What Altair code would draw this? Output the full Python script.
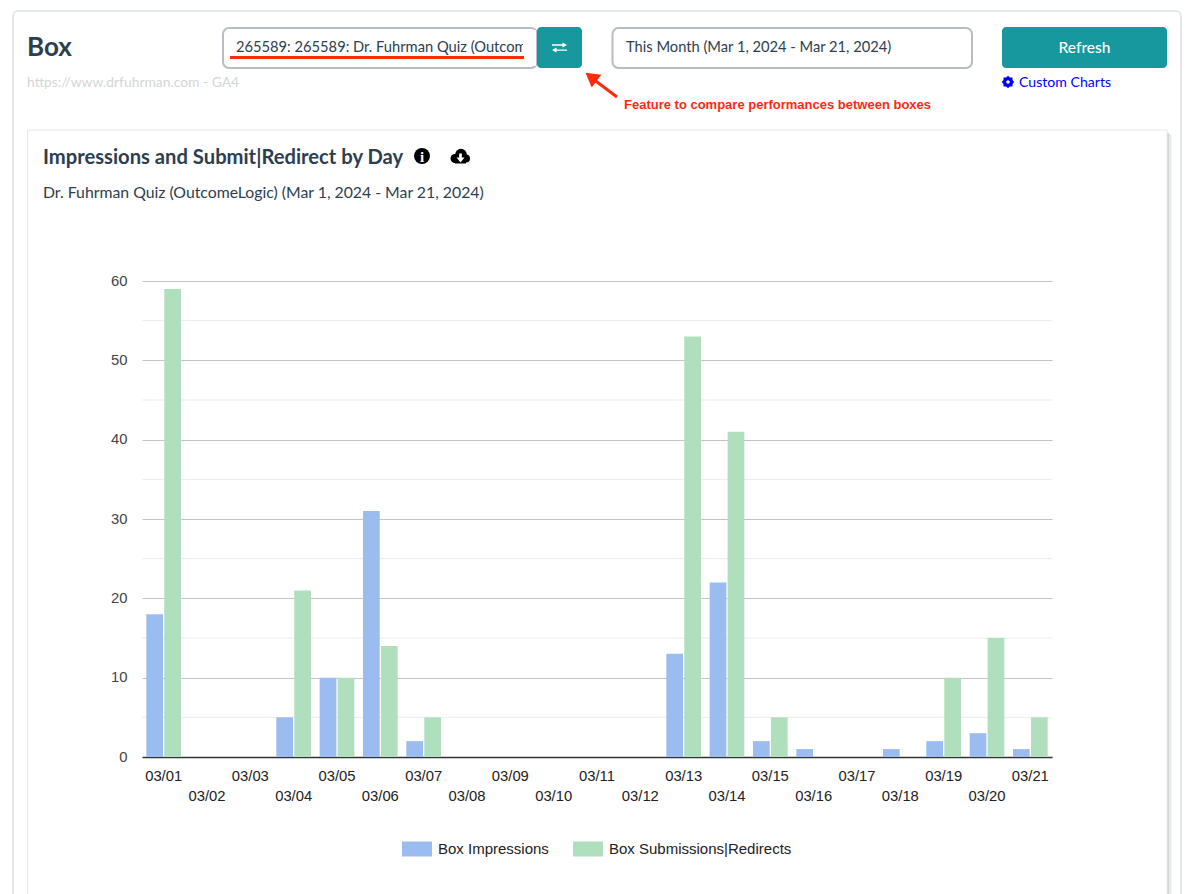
import altair as alt
import pandas as pd

days = ["03/%02d" % d for d in range(1, 22)]
impressions = [18, 0, 0, 5, 10, 31, 2, 0, 0, 0, 0, 0, 13, 22, 2, 1, 0, 1, 2, 3, 1]
submissions = [59, 0, 0, 21, 10, 14, 5, 0, 0, 0, 0, 0, 53, 41, 5, 0, 0, 0, 10, 15, 5]
series_names = ["Box Impressions", "Box Submissions|Redirects"]
series_colors = ["#9abcf0", "#afdfbd"]
major_ticks = [0, 10, 20, 30, 40, 50, 60]
minor_ticks = [5, 15, 25, 35, 45, 55]

OX, OY = 142, 281
PW, PH = 910, 476
UI = "Lato"
INK = "#2c3e50"
TEAL = "#17989f"
RED = "#ff2a0c"
one = alt.Data(values=[{"a": 1}])


def X(v):
    return alt.value(v - OX)


def Y(v):
    return alt.value(v - OY)


def box(x0, y0, x1, y1, **kw):
    return alt.Chart(one).mark_rect(**kw).encode(x=X(x0), x2=X(x1), y=Y(y0), y2=Y(y1))


def label(x, y, text, size=14, color=INK, weight="normal", font=UI, align="left"):
    return alt.Chart(one).mark_text(
        text=text, fontSize=size, color=color, fontWeight=weight, font=font,
        align=align, baseline="middle",
    ).encode(x=X(x), y=Y(y))


def dot(cx, cy, r, color):
    return alt.Chart(one).mark_circle(size=3.14159 * r * r, color=color, opacity=1).encode(x=X(cx), y=Y(cy))


def glyph(cx, cy, shape, width, color, angle=0):
    return alt.Chart(one).mark_point(
        shape=shape, size=width * width, fill=color, filled=True, opacity=1, strokeWidth=0, angle=angle
    ).encode(x=X(cx), y=Y(cy))


def line(x0, y0, x1, y1, color, w):
    return alt.Chart(one).mark_rule(color=color, strokeWidth=w).encode(x=X(x0), x2=X(x1), y=Y(y0), y2=Y(y1))


SWAP = ("M-1,-0.42H0.4V-0.68L1,-0.33L0.4,0V-0.25H-1Z"
        "M1,0.25H-0.4V0L-1,0.33L-0.4,0.68V0.42H1Z")
DOWN = "M-0.3,-1H0.3V-0.1H0.9L0,1L-0.9,-0.1H-0.3Z"

chrome = [
    # outer and inner cards
    box(13, 11, 1181, 960, fillOpacity=0, stroke="#e3e8e8", strokeWidth=2, cornerRadius=5),
    box(1167, 133, 1169, 960, fill="#d4d6d6"),
    box(1169, 134, 1171, 960, fill="#e8e9e9"),
    box(1171, 135, 1172, 960, fill="#f5f5f5"),
    box(27.5, 130, 1167, 960, fillOpacity=0, stroke="#e6e8e8", strokeWidth=1),
    # header
    label(27, 48, "Box", size=26, weight="bold"),
    label(27, 83, "https://www.drfuhrman.com - GA4", size=13.85, color="#d3d6d6"),
    box(223, 28, 537, 68, fillOpacity=0, stroke="#b7bdc2", strokeWidth=2, cornerRadius=6),
    label(236, 48, "265589: 265589: Dr. Fuhrman Quiz (Outcome", size=14.7),
    box(523, 30, 536, 66, fill="#ffffff"),
    box(537, 27, 582, 68, fill=TEAL, cornerRadius=4),
    glyph(559.5, 47.5, SWAP, 15, "#ffffff"),
    line(230, 57.5, 524, 57.5, RED, 3),
    box(612.5, 28, 972, 68, fillOpacity=0, stroke="#b7bdc2", strokeWidth=2, cornerRadius=6),
    label(626, 48, "This Month (Mar 1, 2024 - Mar 21, 2024)", size=14.7),
    box(1002, 27, 1167, 68, fill=TEAL, cornerRadius=4),
    label(1084.5, 47.5, "Refresh", size=15.5, color="#ffffff", weight=500, align="center"),
    glyph(1008, 82, "square", 9, "#0000ff"),
    glyph(1008, 82, "square", 9, "#0000ff", angle=45),
    dot(1008, 82, 4.8, "#0000ff"),
    dot(1008, 82, 2, "#ffffff"),
    label(1019, 83, "Custom Charts", size=14.1, color="#0000ff"),
    # annotation
    line(617, 97, 593, 79, RED, 3),
    glyph(591, 77, "triangle-up", 16, RED, angle=307),
    label(624, 105, "Feature to compare performances between boxes", size=13, color=RED,
          weight="bold", font="Liberation Sans"),
    # chart header
    label(43, 158, "Impressions and Submit|Redirect by Day", size=20.2, weight="bold"),
    dot(422, 156, 9, "#000000"),
    label(422, 156.5, "i", size=15, color="#ffffff", weight="bold", font="Liberation Serif", align="center"),
    dot(455, 158.5, 5, "#000000"),
    dot(461, 154.5, 6.5, "#000000"),
    dot(466, 158.5, 4.5, "#000000"),
    box(455, 157, 466, 163.5, fill="#000000"),
    glyph(460.5, 158, DOWN, 9, "#ffffff"),
    label(43, 193, "Dr. Fuhrman Quiz (OutcomeLogic) (Mar 1, 2024 - Mar 21, 2024)", size=15.8),
]

y_axis = alt.Axis(values=major_ticks, grid=True, gridColor="#c4c4c4", domain=False, ticks=False,
                  labelFont="Liberation Sans", labelFontSize=14.8, labelColor="#444444",
                  labelPadding=15)
y_scale = alt.Scale(domain=[0, 60], nice=False)

minor = alt.Chart(pd.DataFrame({"v": minor_ticks})).mark_rule(color="#ebebeb", strokeWidth=1).encode(
    x=alt.value(0), x2=alt.value(PW),
    y=alt.Y("v:Q", title=None, scale=y_scale, axis=y_axis),
)

df = pd.concat([
    pd.DataFrame({"day": days, "series": series_names[0], "value": impressions}),
    pd.DataFrame({"day": days, "series": series_names[1], "value": submissions}),
])

bars = alt.Chart(df).mark_bar().encode(
    x=alt.X("day:N", sort=days, title=None,
            scale=alt.Scale(paddingInner=0.2, paddingOuter=0.1),
            axis=alt.Axis(
                labelAngle=0, labelOverlap=False, ticks=False, domainColor="#333333", domainWidth=1.5,
                labelFont="Liberation Sans", labelFontSize=14.8, labelColor="#222222", labelPadding=11,
                labelLineHeight=20,
                labelExpr="parseInt(slice(datum.label, 3)) % 2 == 0 ? ['', datum.label] : datum.label",
            )),
    xOffset=alt.XOffset("series:N", sort=series_names, scale=alt.Scale(paddingInner=0.07)),
    y=alt.Y("value:Q", title=None, scale=y_scale, axis=y_axis),
    color=alt.Color("series:N", sort=series_names,
                    scale=alt.Scale(domain=series_names, range=series_colors),
                    legend=alt.Legend(orient="none", legendX=260, legendY=553, direction="horizontal",
                                      title=None, symbolType="M-1,-0.5H1V0.5H-1Z", symbolSize=900,
                                      symbolStrokeWidth=0, symbolOpacity=1, labelFont="Liberation Sans",
                                      labelFontSize=15, labelColor="#222222", labelOffset=6,
                                      labelLimit=400, columnPadding=24)),
)

chart = alt.layer(*chrome, minor, bars).properties(
    width=PW, height=PH,
    autosize=alt.AutoSizeParams(type="none"),
    padding={"left": OX - 8, "top": OY - 8, "right": 1182 - (OX - 8) - PW, "bottom": 886 - (OY - 8) - PH},
    background="#ffffff",
).configure_view(stroke=None)

chart.save("out.html", embed_options={"renderer": "svg", "actions": False})
